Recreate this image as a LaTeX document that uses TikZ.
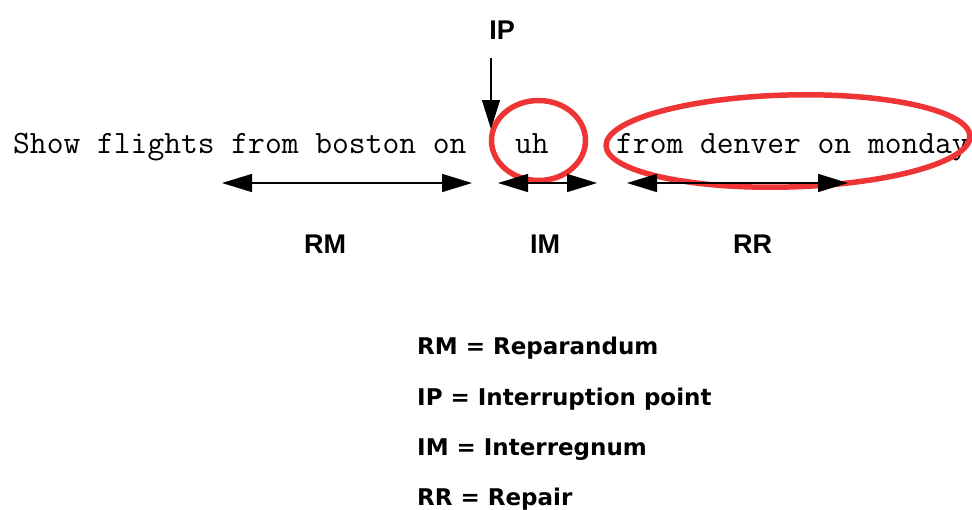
\documentclass[tikz,border=0pt]{standalone}
\usepackage{fontspec}
\setmainfont{Liberation Sans}
\newfontfamily\legf{DejaVu Sans}
\usetikzlibrary{arrows.meta}
\definecolor{ringred}{RGB}{238,52,52}
\tikzset{
  sent/.style={inner sep=0pt, anchor=base west, font=\ttfamily\fontsize{32.6}{34}\selectfont},
  lab/.style={inner sep=0pt, anchor=base, font=\bfseries\fontsize{27}{30}\selectfont},
  leg/.style={inner sep=0pt, anchor=base west, font=\legf\bfseries\fontsize{23}{26}\selectfont},
  span/.style={line width=1.4pt, {Triangle[length=30pt,width=18pt]}-{Triangle[length=30pt,width=18pt]}},
  iparrow/.style={line width=1.4pt, -{Triangle[length=29pt,width=18pt]}},
  ring/.style={draw=ringred, line width=5.5pt}
}
\begin{document}
\begin{tikzpicture}[x=1pt,y=-1pt]
\useasboundingbox (0,0) rectangle (972,509);
% sentence
\node[sent] (s1) at (13,153) {Show flights from boston on};
\node[sent] (s2) at (515,153) {uh};
\node[sent] (s3) at (616,153) {from denver on monday};
% rings
\draw[ring] (538.5,140.5) ellipse [x radius=47pt, y radius=40pt];
\draw[ring, rotate around={1.5:(788,141)}] (788,141) ellipse [x radius=182pt, y radius=46pt];
% IP
\node[lab] (ip) at (502,39) {IP};
\coordinate (ipa) at (491,58);
\coordinate (ipb) at (491,129);
\draw[iparrow] (ipa) -- (ipb);
% spans
\coordinate (rm1) at (222,183); \coordinate (rm2) at (472,183);
\coordinate (im1) at (498,183); \coordinate (im2) at (597,183);
\coordinate (rr1) at (627,183); \coordinate (rr2) at (848,183);
\draw[span] (rm1) -- (rm2);
\draw[span] (im1) -- (im2);
\draw[span] (rr1) -- (rr2);
% labels
\node[lab] (rm) at (325,253) {RM};
\node[lab] (im) at (545,253) {IM};
\node[lab] (rr) at (752.5,253) {RR};
% legend
\node[leg] (l1) at (417,354) {RM = Reparandum};
\node[leg] (l2) at (417,405) {IP = Interruption point};
\node[leg] (l3) at (417,455) {IM = Interregnum};
\node[leg] (l4) at (417,505) {RR = Repair};
\end{tikzpicture}
\end{document}
